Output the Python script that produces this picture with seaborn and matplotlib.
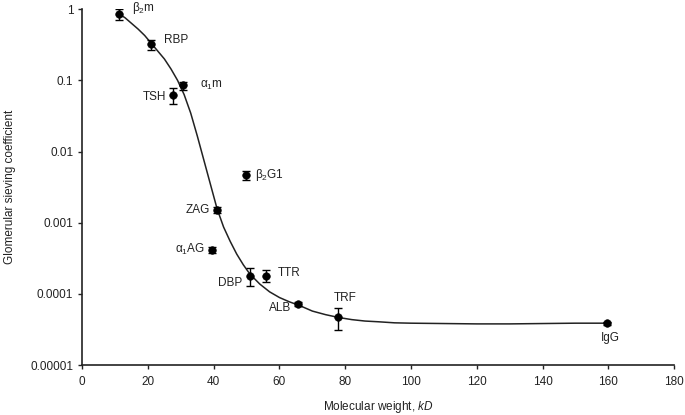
import numpy as np
import pandas as pd
import seaborn as sns
import matplotlib.pyplot as plt
from matplotlib.ticker import FixedLocator, FixedFormatter

# proteins: name, molecular weight (kD), sieving coefficient, error
names = ["β$_2$m", "RBP", "α$_1$m", "TSH", "β$_2$G1", "ZAG",
         "α$_1$AG", "DBP", "TTR", "ALB", "TRF", "IgG"]
mw = [11.3, 20.8, 30.8, 27.7, 49.8, 41.0, 39.5, 51.0, 56.0, 65.7, 77.8, 159.6]
sieving = [0.85, 0.32, 0.085, 0.062, 0.0047, 0.0015, 0.00042, 0.00018,
           0.00018, 0.000072, 0.000047, 0.000039]
err = [0.15, 0.05, 0.011, 0.015, 0.0007, 0.00015, 0.00004, 0.00005,
       0.000035, 0.000005, 0.000016, 0.000002]

# fitted curve (log10 of sieving coefficient)
curve_mw = [11.3, 13, 15, 17, 19, 21, 23, 25, 27, 29, 31, 33, 35, 37, 39,
            41, 43, 45, 47, 49, 51, 54, 57, 60, 63, 66, 70, 74, 78, 82, 86,
            90, 95, 100, 110, 120, 130, 140, 150, 160]
curve_log = [-0.07, -0.12, -0.20, -0.28, -0.37, -0.48, -0.59, -0.70, -0.84,
             -1.00, -1.20, -1.46, -1.78, -2.12, -2.46, -2.80, -3.06, -3.26,
             -3.44, -3.59, -3.72, -3.86, -3.97, -4.05, -4.11, -4.16, -4.24,
             -4.29, -4.33, -4.36, -4.38, -4.39, -4.405, -4.41, -4.415, -4.42,
             -4.42, -4.415, -4.41, -4.41]

# label offsets in pixels (dx, dy, ha)
label_pos = [(13, 6, "left"), (13, 4, "left"), (17, 0, "left"),
             (-7, -2, "right"), (9, 0, "left"), (-7, 0, "right"),
             (-7, 0, "right"), (-8, -7, "right"), (11, 3, "left"),
             (-7, -4, "right"), (7, 19, "center"), (3, -15, "center")]

sns.set_style("white")
plt.rcParams['font.family'] = ['Liberation Sans', 'DejaVu Sans']
plt.rcParams['mathtext.fontset'] = 'custom'
plt.rcParams['mathtext.rm'] = 'Liberation Sans'
plt.rcParams['mathtext.it'] = 'Liberation Sans:italic'

pts = pd.DataFrame({"mw": mw, "sc": sieving})
crv = pd.DataFrame({"mw": curve_mw, "sc": 10.0 ** np.array(curve_log)})

fig, ax = plt.subplots(figsize=(6.85, 4.15), dpi=100)
fig.subplots_adjust(left=0.12, right=0.984, top=0.978, bottom=0.12)

sns.lineplot(data=crv, x="mw", y="sc", ax=ax, color="#222222", lw=1.1,
             sort=True, estimator=None)
ax.errorbar(mw, sieving, yerr=err, fmt="none", ecolor="black", elinewidth=1,
            capsize=3, capthick=1)
sns.scatterplot(data=pts, x="mw", y="sc", ax=ax, color="black", s=30,
                edgecolor="black", zorder=5)

for n, x, y, (dx, dy, ha) in zip(names, mw, sieving, label_pos):
    ax.annotate(n, (x, y), xytext=(dx, dy), textcoords="offset pixels",
                ha=ha, va="center", fontsize=8.5, color="#222222")

ax.set_yscale("log")
ax.set_xlim(0, 180)
ax.set_ylim(0.00001, 1)
ax.set_xticks(range(0, 181, 20))
yt = [1, 0.1, 0.01, 0.001, 0.0001, 0.00001]
ax.yaxis.set_major_locator(FixedLocator(yt))
ax.yaxis.set_major_formatter(FixedFormatter(["1", "0.1", "0.01", "0.001",
                                             "0.0001", "0.00001"]))
ax.yaxis.set_minor_locator(FixedLocator([]))
ax.tick_params(axis="both", labelsize=8.5, length=3, width=1, direction="out",
               left=True, bottom=True, colors="#222222")
ax.tick_params(axis="x", pad=5)
for s in ["top", "right"]:
    ax.spines[s].set_visible(False)
for s in ["left", "bottom"]:
    ax.spines[s].set_color("#222222")
    ax.spines[s].set_linewidth(1.2)

ax.set_xlabel("Molecular weight, $\\it{kD}$", fontsize=8.5, labelpad=8,
              color="#222222")
ax.set_ylabel("Glomerular sieving coefficient", fontsize=8.5, labelpad=10,
              color="#222222")

fig.savefig("out.png", dpi=100)
